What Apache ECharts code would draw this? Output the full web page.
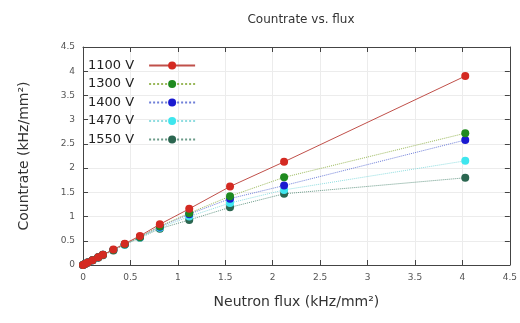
<!DOCTYPE html>
<html><head><meta charset="utf-8">
<script src="https://cdn.jsdelivr.net/npm/echarts@6/dist/echarts.min.js"></script>
<style>html,body{margin:0;padding:0;background:#fff}#c{width:520px;height:323px}</style>
</head><body><div id="c"></div>
<script>
const flux = [0, 0.02, 0.05, 0.1, 0.16, 0.21, 0.32, 0.44, 0.6, 0.81, 1.12, 1.55, 2.12, 4.03];
const rate1100 = [0, 0.02, 0.05, 0.1, 0.16, 0.21, 0.32, 0.44, 0.6, 0.84, 1.16, 1.62, 2.13, 3.9];
const rate1300 = [0, 0.02, 0.05, 0.1, 0.16, 0.21, 0.31, 0.43, 0.58, 0.8, 1.07, 1.42, 1.81, 2.72];
const rate1400 = [0, 0.02, 0.05, 0.1, 0.16, 0.21, 0.31, 0.43, 0.58, 0.79, 1.05, 1.37, 1.64, 2.58];
const rate1470 = [0, 0.02, 0.05, 0.1, 0.16, 0.21, 0.31, 0.42, 0.57, 0.77, 1.0, 1.28, 1.55, 2.15];
const rate1550 = [0, 0.02, 0.05, 0.1, 0.15, 0.2, 0.3, 0.42, 0.56, 0.75, 0.93, 1.19, 1.47, 1.8];
const names = ['1100 V', '1300 V', '1400 V', '1470 V', '1550 V'];
const colors = ['#d42a22', '#1f8a1f', '#1a1ad0', '#3ee6ee', '#2b6650'];
const lineColors = ['#c0504a', '#9ab85a', '#6f7fd8', '#8fdde0', '#6a9a88'];
const rates = [rate1100, rate1300, rate1400, rate1470, rate1550];

const font = 'DejaVu Sans';
const chart = echarts.init(document.getElementById('c'), null, {renderer: 'canvas'});
const series = rates.map((r, i) => ({
  name: names[i], type: 'line', xAxisIndex: 0, yAxisIndex: 0,
  data: flux.map((x, j) => [x, r[j]]),
  symbol: 'circle', symbolSize: 8,
  itemStyle: {color: colors[i]},
  lineStyle: {color: lineColors[i], width: 1, type: i === 0 ? 'solid' : 'dotted'},
  z: 10 - i, animation: false
}));
const axisBase = {
  type: 'value', min: 0, max: 4.5, interval: 0.5,
  axisLine: {show: true, onZero: false, lineStyle: {color: '#444', width: 1}},
  axisTick: {show: true, inside: true, length: 5, lineStyle: {color: '#444'}},
};
chart.setOption({
  backgroundColor: '#fff',
  animation: false,
  title: {text: 'Countrate vs. flux', left: 296, top: 9, textAlign: 'center',
    textStyle: {fontFamily: font, fontSize: 12, fontWeight: 'normal', color: '#333'}},
  legend: {orient: 'vertical', left: 83, top: 54, align: 'right', itemWidth: 46, itemHeight: 10, itemGap: 5.5,
    textStyle: {fontFamily: font, fontSize: 13, color: '#222', padding: [0, 10, 0, 0]}, data: names},
  grid: {left: 83, right: 9, top: 47, bottom: 58},
  xAxis: [
    Object.assign({}, axisBase, {position: 'bottom',
      name: 'Neutron flux (kHz/mm²)', nameLocation: 'middle', nameGap: 30,
      nameTextStyle: {fontFamily: font, fontSize: 14, color: '#333'},
      axisLabel: {fontFamily: font, fontSize: 9, color: '#555', margin: 8},
      splitLine: {show: true, lineStyle: {color: '#ececec', width: 1}}}),
    Object.assign({}, axisBase, {position: 'top', axisLabel: {show: false}, splitLine: {show: false}})
  ],
  yAxis: [
    Object.assign({}, axisBase, {position: 'left',
      name: 'Countrate (kHz/mm²)', nameLocation: 'middle', nameGap: 52,
      nameTextStyle: {fontFamily: font, fontSize: 14, color: '#333'},
      axisLabel: {fontFamily: font, fontSize: 9, color: '#555', margin: 8},
      splitLine: {show: true, lineStyle: {color: '#ececec', width: 1}}}),
    Object.assign({}, axisBase, {position: 'right', axisLabel: {show: false}, splitLine: {show: false}})
  ],
  series: series
});
</script></body></html>
